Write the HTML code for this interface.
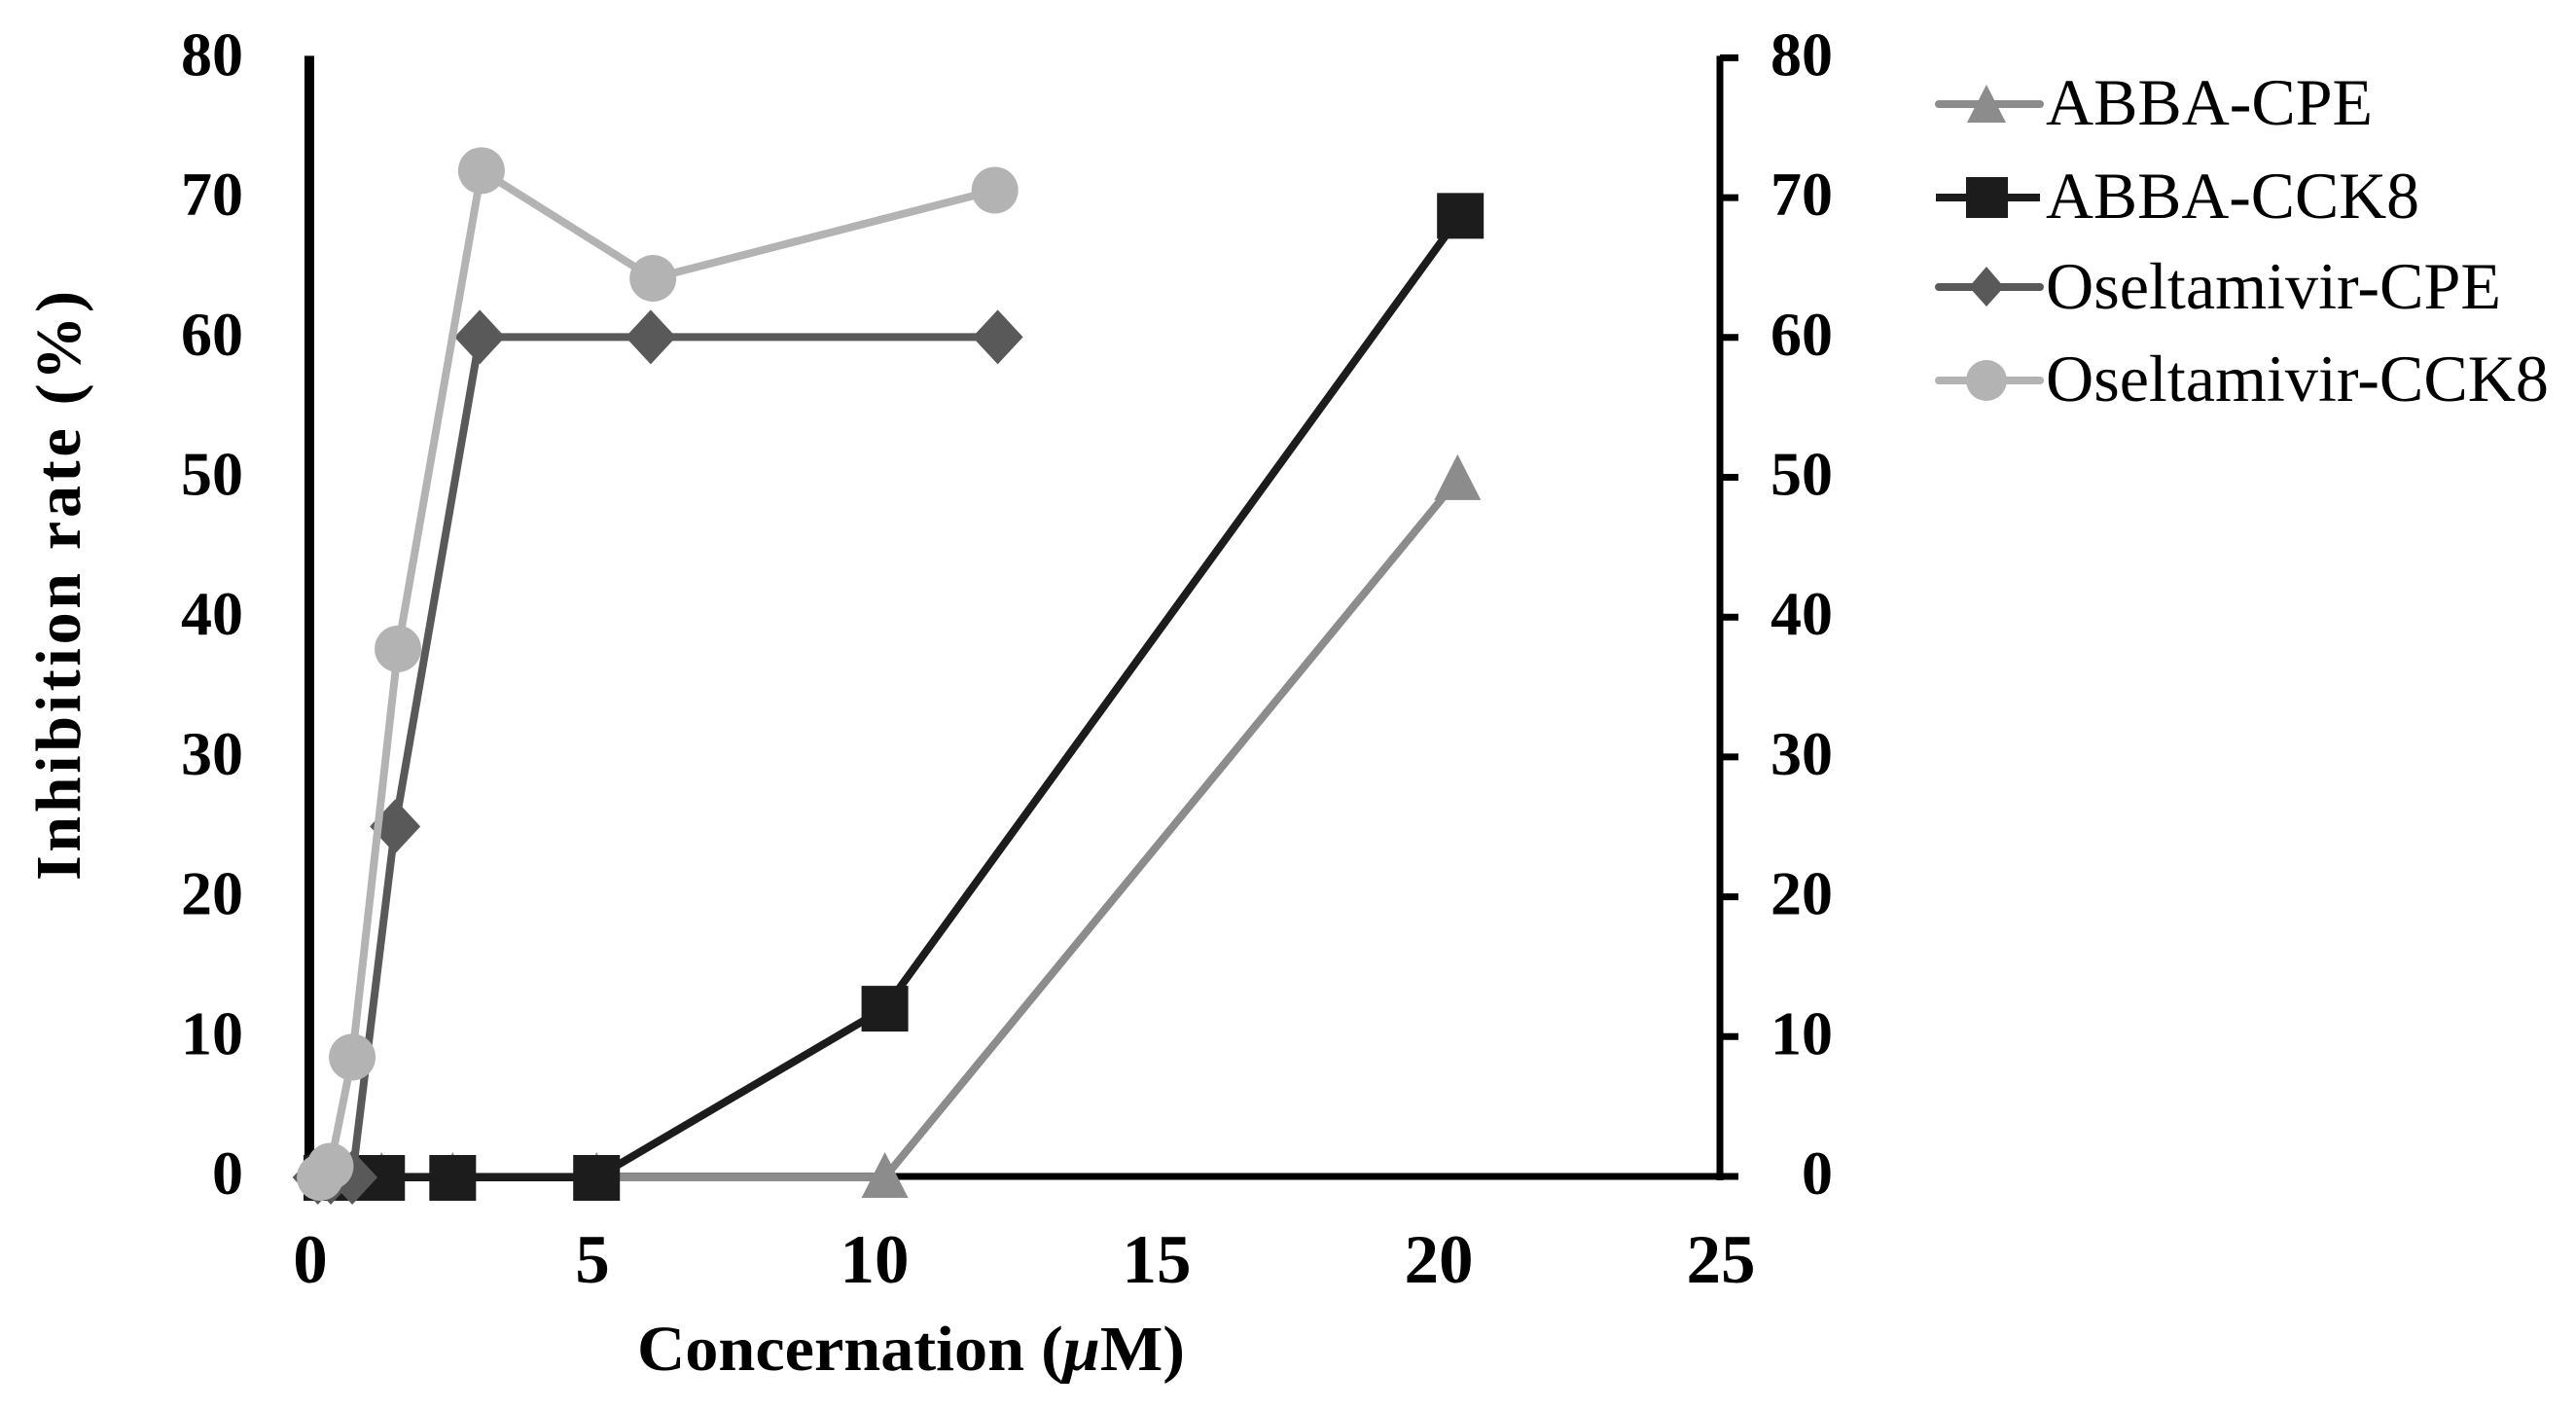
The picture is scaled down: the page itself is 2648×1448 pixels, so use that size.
<!DOCTYPE html>
<html lang="en">
<head>
<meta charset="utf-8">
<title>Inhibition rate chart</title>
<style>
  html, body { margin: 0; padding: 0; background: #fff; }
  svg { display: block; }
  text { font-family: "Liberation Serif", serif; fill: #000; }
  .tick { font-size: 64px; font-weight: bold; }
  .xtick { font-size: 71px; font-weight: bold; text-anchor: middle; }
  .title { font-size: 66px; font-weight: bold; }
  .legend { font-size: 68px; }
</style>
</head>
<body>
<svg id="chart" width="2648" height="1448" viewBox="0 0 2648 1448" xmlns="http://www.w3.org/2000/svg">
  <rect width="2648" height="1448" fill="#ffffff"/>
  <g id="axes"></g>
  <g id="series"></g>
  <text class="title" x="655" y="1408" textLength="563" lengthAdjust="spacingAndGlyphs">Concernation (<tspan font-style="italic">μ</tspan>M)</text>
  <text class="title" transform="translate(82 905) rotate(-90)" textLength="606" lengthAdjust="spacing">Inhibition rate (%)</text>
  <g id="legend">
    <g>
      <line x1="1993" x2="2097" y1="107" y2="107" stroke="#8c8c8c" stroke-width="8" stroke-linecap="round"/>
      <polygon points="2042,87 2022,126 2062,126" fill="#8c8c8c"/>
      <text class="legend" x="2103" y="128" textLength="336" lengthAdjust="spacingAndGlyphs">ABBA-CPE</text>
    </g>
    <g>
      <line x1="1990" x2="2097" y1="203" y2="203" stroke="#1c1c1c" stroke-width="8"/>
      <rect x="2021" y="182" width="43" height="42" fill="#1c1c1c"/>
      <text class="legend" x="2103" y="224" textLength="384" lengthAdjust="spacingAndGlyphs">ABBA-CCK8</text>
    </g>
    <g>
      <line x1="1993" x2="2097" y1="295" y2="295" stroke="#595959" stroke-width="8" stroke-linecap="round"/>
      <polygon points="2042,274 2060,295 2042,315 2024,295" fill="#595959"/>
      <text class="legend" x="2103" y="317" textLength="468" lengthAdjust="spacingAndGlyphs">Oseltamivir-CPE</text>
    </g>
    <g>
      <line x1="1993" x2="2097" y1="391" y2="391" stroke="#b3b3b3" stroke-width="8" stroke-linecap="round"/>
      <circle cx="2042" cy="391" r="21" fill="#b3b3b3"/>
      <text class="legend" x="2103" y="412" textLength="517" lengthAdjust="spacingAndGlyphs">Oseltamivir-CCK8</text>
    </g>
  </g>
</svg>
<script>
// Chart data
const xTickValues = [0, 5, 10, 15, 20, 25];
const yTickValues = [0, 10, 20, 30, 40, 50, 60, 70, 80];

const abbaCpeX = [0.31, 0.64, 1.28, 2.54, 5.09, 10.2, 20.35];
const abbaCpeY = [0, 0, 0, 0, 0, 0, 49.9];

const abbaCck8X = [0.31, 0.64, 1.28, 2.54, 5.09, 10.2, 20.4];
const abbaCck8Y = [0, 0, 0, 0, 0, 12.1, 68.8];

const oselCpeX = [0.15, 0.38, 0.76, 1.52, 3.02, 6.05, 12.2];
const oselCpeY = [0, 0, 0, 25.1, 60.1, 60.1, 60.1];

const oselCck8X = [0.19, 0.37, 0.76, 1.57, 3.05, 6.09, 12.15];
const oselCck8Y = [0, 0.8, 8.6, 37.8, 72, 64.3, 70.6];

const NS = 'http://www.w3.org/2000/svg';
const X0 = 318, X_UNIT = 58;
const Y0 = 1210, Y_UNIT = 14.37;
const xScale = v => X0 + v * X_UNIT;
const yScale = v => Y0 - v * Y_UNIT;

function make(tag, attrs, parent) {
  const el = document.createElementNS(NS, tag);
  for (const k in attrs) el.setAttribute(k, attrs[k]);
  parent.appendChild(el);
  return el;
}

const axes = document.getElementById('axes');
const seriesLayer = document.getElementById('series');
const yMax = yTickValues[yTickValues.length - 1];
const xMax = xTickValues[xTickValues.length - 1];
const rightX = xScale(xMax);

const leftAxis = make('line', {x1: X0, x2: X0, y1: yScale(yMax) - 3, y2: Y0 + 3, stroke: '#000', 'stroke-width': 10}, axes);



const rightAxis = make('line', {x1: rightX, x2: rightX, y1: yScale(yMax) - 3, y2: Y0 + 3, stroke: '#000', 'stroke-width': 7}, axes);



const xAxis = make('line', {x1: X0 - 5, x2: rightX + 19, y1: Y0 - 1, y2: Y0 - 1, stroke: '#000', 'stroke-width': 7}, axes);



yTickValues.forEach(v => {
  const tick = make('line', {x1: rightX, x2: rightX + 19, y1: yScale(v) - 1, y2: yScale(v) - 1, stroke: '#000', 'stroke-width': 7}, axes);
  
  

  const leftLabel = make('text', {class: 'tick', x: 250, y: yScale(v) + 17, 'text-anchor': 'end'}, axes);
  leftLabel.textContent = v;
  
  

  const rightLabel = make('text', {class: 'tick', x: 1884, y: yScale(v) + 17, 'text-anchor': 'end'}, axes);
  rightLabel.textContent = v;
  
  
});

xTickValues.forEach(v => {
  const label = make('text', {class: 'xtick', x: xScale(v) + 1, y: 1318}, axes);
  label.textContent = v;
  
  
});

function drawMarker(kind, cx, cy, color, parent) {
  let el;
  if (kind === 'triangle') {
    el = make('polygon', {points: `${cx},${cy - 26} ${cx - 24},${cy + 21} ${cx + 24},${cy + 21}`, fill: color}, parent);
  } else if (kind === 'square') {
    el = make('rect', {x: cx - 24, y: cy - 23, width: 48, height: 47, fill: color}, parent);
  } else if (kind === 'diamond') {
    el = make('polygon', {points: `${cx},${cy - 28} ${cx + 26},${cy} ${cx},${cy + 28} ${cx - 26},${cy}`, fill: color}, parent);
  } else {
    el = make('circle', {cx: cx, cy: cy, r: 24, fill: color}, parent);
  }
  
  
}

function drawSeries(name, xs, ys, color, kind) {
  const group = make('g', {}, seriesLayer);
  
  
  const pts = xs.map((x, i) => xScale(x) + ',' + yScale(ys[i])).join(' ');
  const line = make('polyline', {points: pts, fill: 'none', stroke: color, 'stroke-width': 8, 'stroke-linejoin': 'round'}, group);
  
  
  xs.forEach((x, i) => drawMarker(kind, xScale(x), yScale(ys[i]), color, group));
}

drawSeries('series-abba-cpe', abbaCpeX, abbaCpeY, '#8c8c8c', 'triangle');
drawSeries('series-abba-cck8', abbaCck8X, abbaCck8Y, '#1c1c1c', 'square');
drawSeries('series-oseltamivir-cpe', oselCpeX, oselCpeY, '#595959', 'diamond');
drawSeries('series-oseltamivir-cck8', oselCck8X, oselCck8Y, '#b3b3b3', 'circle');
</script>
</body>
</html>
